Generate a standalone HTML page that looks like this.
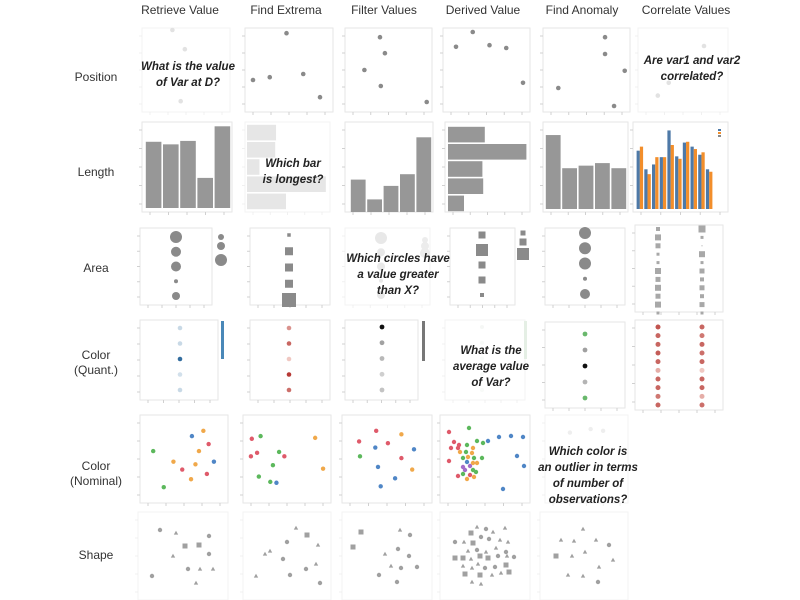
<!DOCTYPE html>
<html><head><meta charset="utf-8">
<style>
html,body{margin:0;padding:0;background:#fff;}
svg{display:block;font-family:"Liberation Sans",sans-serif;}
.hdr{font-size:12px;fill:#333;text-anchor:middle;}
.row{font-size:12px;fill:#333;text-anchor:middle;}
.q{font-size:11.5px;font-weight:bold;font-style:italic;fill:#222;text-anchor:middle;}
</style></head>
<body>
<svg id="fig" width="800" height="600" viewBox="0 0 800 600" xmlns="http://www.w3.org/2000/svg">
<g>
<text class="hdr" x="180" y="14">Retrieve Value</text>
<text class="hdr" x="286" y="14">Find Extrema</text>
<text class="hdr" x="384" y="14">Filter Values</text>
<text class="hdr" x="483" y="14">Derived Value</text>
<text class="hdr" x="582" y="14">Find Anomaly</text>
<text class="hdr" x="686" y="14">Correlate Values</text>
</g>
<g>
<text class="row" x="96" y="81">Position</text>
<text class="row" x="96" y="176">Length</text>
<text class="row" x="96" y="272">Area</text>
<text class="row" x="96" y="359"><tspan x="96">Color</tspan><tspan x="96" dy="15">(Quant.)</tspan></text>
<text class="row" x="96" y="470"><tspan x="96">Color</tspan><tspan x="96" dy="15">(Nominal)</tspan></text>
<text class="row" x="96" y="559">Shape</text>
</g>
<g id="marks"></g>
<g id="qs"></g>
</svg>
<script>
// ---------- data ----------
const catsABCDE = ["A","B","C","D","E"];
const posRetrieveX = [3.3,4.8,4.2,4.3];
const posRetrieveY = [10,7.6,3.4,1.1];
const posExtremaY = [3.75,4.1,9.6,4.5,1.6];
const posFilterX = [3.9,4.5,2.0,4.0,9.6];
const posFilterY = [9.1,7.1,5.0,3.0,1.0];
const posDerivedY = [7.9,9.75,8.1,7.75,3.4];
const posAnomalyX = [1.5,7.2,7.2,9.6,8.3];
const posAnomalyY = [2.75,9.1,7.0,4.9,0.5];
const posCorrX = [2.0,3.3,7.0,7.5,6.1];
const posCorrY = [1.8,3.4,6.2,8.0,4.2];

const lenRetrieve = [77,74,78,35,95];
const lenExtrema = [35,34,15,95,47];
const lenFilter = [36,14,29,42,83];
const lenDerived = [46,98,43,44,20];
const lenAnomaly = [87,48,51,54,48];
const lenCorrBlue = [72,49,55,64,97,65,82,77,67,49];
const lenCorrOrange = [77,43,64,64,79,62,83,74,70,46];

const areaRetrieve = [6,5,5,2,4];
const areaRetrieveLegend = [3,4,6];
const areaExtrema = [3.5,8,8,8,14];
const areaFilter = [6,4,4,2,4];
const areaDerived = [7,12,7,7,4];
const areaDerivedLegend = [5,7,12];
const areaAnomaly = [6,6,6,2,5];
const areaCorrLeft = [4,6,5,3,3,6,5,6,5,6,3];
const areaCorrRight = [7,3,1,6,3,5,4,5,4,5,3];

const colRetrieve = [0.15,0.15,0.9,0.1,0.15];
const colExtrema = [0.45,0.7,0.15,0.95,0.65];
const colFilter = [1,0.35,0.25,0.15,0.2];
const colDerived = [0.15,0.1,0.1,0.1,0.1];
const colAnomaly = [-0.8,0.3,1,0.2,-0.8];
const colCorrLeft = [0.8,0.7,0.7,0.75,0.7,0.3,0.7,0.7,0.6,0.7];
const colCorrRight = [0.7,0.6,0.7,0.65,0.7,0.15,0.7,0.7,0.3,0.65];

const nomRetrieveX = [15,59,72,78,67,38,63,84,48,76,58,27];
const nomRetrieveY = [59,76,82,67,59,47,44,47,38,33,27,18];
const nomRetrieveC = ["g","b","o","r","o","o","o","b","r","r","o","g"];
const nomExtremaX = [10,20,82,9,16,41,47,34,91,18,31,38];
const nomExtremaY = [73,76,74,53,57,58,53,43,39,30,24,23];
const nomExtremaC = ["r","g","o","r","r","g","r","g","o","g","g","b"];
const nomFilterX = [38,66,19,51,37,80,20,66,40,78,59,43];
const nomFilterY = [82,78,70,68,63,61,53,51,41,38,28,19];
const nomFilterC = ["r","o","r","r","b","b","g","r","b","o","b","b"];
const nomDerivedX = [29,9,59,71,83,48,43,37,14,19,27,11,18,33,26,32,20,23,28,34,42,77,9,27,33,37,23,30,33,84,25,36,18,23,30,34,27,63];
const nomDerivedY = [75,71,66,67,66,62,60,62,61,58,58,55,55,55,51,50,51,45,46,45,45,47,42,41,40,40,36,37,33,37,33,31,27,29,28,26,24,14];
const nomDerivedC = ["g","r","b","b","b","b","g","g","r","r","g","r","r","o","g","o","o","g","o","g","g","b","r","b","o","o","p","p","g","b","p","g","r","g","r","o","o","b"];
const nomAnomalyX = [30,55,70];
const nomAnomalyY = [80,84,82];
const nomAnomalyC = ["g","o","o"];

const shpRetrieveX = [22,38,47,61,71,35,71,50,62,75,14,58];
const shpRetrieveY = [70,67,54,55,64,44,46,31,31,31,24,17];
const shpRetrieveS = ["c","t","s","s","c","t","c","c","t","t","c","t"];
const shpExtremaX = [53,64,44,75,22,27,40,73,63,47,13,77];
const shpExtremaY = [72,65,58,55,46,49,41,36,31,25,24,17];
const shpExtremaS = ["t","s","c","t","t","t","c","t","c","c","t","c"];
const shpFilterX = [19,58,68,11,56,43,67,49,59,75,37,55];
const shpFilterY = [68,70,65,53,51,46,44,34,32,33,25,18];
const shpFilterS = ["s","t","c","s","c","t","c","t","c","c","c","c"];
const shpDerivedX = [37,46,53,65,31,41,49,15,24,33,60,68,28,37,46,56,66,15,23,31,40,48,58,67,74,23,32,38,45,55,66,25,40,52,61,69,32,41];
const shpDerivedY = [73,71,68,72,67,63,61,58,58,57,60,58,49,50,48,52,48,42,42,41,44,42,44,44,43,34,32,36,32,33,35,26,25,25,27,28,18,16];
const shpDerivedS = ["t","c","t","t","s","c","c","c","t","s","t","t","t","c","t","t","c","s","s","t","s","s","c","t","c","t","t","t","c","c","s","s","s","t","t","s","t","t"];
const shpAnomalyX = [43,21,34,56,69,16,32,45,73,59,28,43,58];
const shpAnomalyY = [71,60,59,60,55,44,44,48,40,33,25,24,18];
const shpAnomalyS = ["t","t","t","t","c","s","t","t","t","t","t","t","c"];

// ---------- helpers ----------
const NS = "http://www.w3.org/2000/svg";
const root = document.getElementById("marks");
const qs = document.getElementById("qs");
function add(parent, tag, attrs, name) {
  const el = document.createElementNS(NS, tag);
  for (const k in attrs) el.setAttribute(k, attrs[k]);
  
  
  parent.appendChild(el);
  return el;
}
function lin(d0, d1, r0, r1) { return v => r0 + (v - d0) / (d1 - d0) * (r1 - r0); }
function pointScale(n, r0, r1) { return i => n === 1 ? (r0 + r1) / 2 : r0 + i * (r1 - r0) / (n - 1); }
function mix(a, b, t) {
  const pa = [parseInt(a.slice(1,3),16),parseInt(a.slice(3,5),16),parseInt(a.slice(5,7),16)];
  const pb = [parseInt(b.slice(1,3),16),parseInt(b.slice(3,5),16),parseInt(b.slice(5,7),16)];
  return "rgb(" + pa.map((v,i)=>Math.round(v+(pb[i]-v)*t)).join(",") + ")";
}
function frame(x0, y0, x1, y1, name, faint) {
  const g = add(root, "g", {}, name);
  add(g, "rect", {x:x0, y:y0, width:x1-x0, height:y1-y0, fill:"#fff", stroke: faint ? "#f3f3f3" : "#e6e6e6", "stroke-width":1}, "plot-frame");
  const tc = faint ? "#f0f0f0" : "#d0d0d0";
  for (let i = 0; i < 5; i++) {
    const y = y0 + 8 + i * (y1 - y0 - 16) / 4;
    add(g, "line", {x1:x0-3, x2:x0, y1:y, y2:y, stroke:tc, "stroke-width":1}, "y-tick");
  }
  for (let i = 0; i < 5; i++) {
    const x = x0 + 8 + i * (x1 - x0 - 16) / 4;
    add(g, "line", {x1:x, x2:x, y1:y1, y2:y1+3, stroke:tc, "stroke-width":1}, "x-tick");
  }
  return g;
}
function question(cx, y, lines, name) {
  const t = add(qs, "text", {class:"q", x:cx, y:y}, name);
  lines.forEach((s, i) => {
    const ts = add(t, "tspan", {x:cx, dy: i ? 16 : 0}, "question-line");
    ts.textContent = s;
  });
}
const DOT = "#8a8a8a", FAINT = "#e2e2e2";

// ---------- Row 1: Position ----------
(function(){
  let g = frame(142,28,230,112,"position-retrieve-value",true);
  let sx = lin(0,10,145,228), sy = lin(0,10,110,30);
  posRetrieveX.forEach((v,i)=>{ add(g,"circle",{cx:sx(v),cy:sy(posRetrieveY[i]),r:2.3,fill:FAINT},"point"); });

  g = frame(245,28,333,112,"position-find-extrema");
  let px = pointScale(catsABCDE.length,253,320); sy = lin(0,10,110,30);
  posExtremaY.forEach((v,i)=>{ add(g,"circle",{cx:px(i),cy:sy(v),r:2.3,fill:DOT},"point"); });

  g = frame(345,28,432,112,"position-filter-values");
  sx = lin(0,10,348,430); sy = lin(0,10,110,30);
  posFilterX.forEach((v,i)=>{ add(g,"circle",{cx:sx(v),cy:sy(posFilterY[i]),r:2.3,fill:DOT},"point"); });

  g = frame(443,28,530,112,"position-derived-value");
  px = pointScale(catsABCDE.length,456,523); sy = lin(0,10,110,30);
  posDerivedY.forEach((v,i)=>{ add(g,"circle",{cx:px(i),cy:sy(v),r:2.3,fill:DOT},"point"); });

  g = frame(543,28,630,112,"position-find-anomaly");
  sx = lin(0,10,546,628); sy = lin(0,10,110,30);
  posAnomalyX.forEach((v,i)=>{ add(g,"circle",{cx:sx(v),cy:sy(posAnomalyY[i]),r:2.3,fill:DOT},"point"); });

  g = frame(638,28,728,112,"position-correlate-values",true);
  sx = lin(0,10,641,725); sy = lin(0,10,110,30);
  posCorrX.forEach((v,i)=>{ add(g,"circle",{cx:sx(v),cy:sy(posCorrY[i]),r:2.3,fill:FAINT},"point"); });
})();

// ---------- Row 2: Length ----------
(function(){
  const BAR = "#979797";
  let g = frame(142,122,232,212,"length-retrieve-value");
  let sy = lin(0,100,208,122), step = 86/5;
  lenRetrieve.forEach((v,i)=>{ add(g,"rect",{x:145+i*step+0.8,y:sy(v),width:step-1.6,height:208-sy(v),fill:BAR},"bar"); });

  g = frame(245,122,330,212,"length-find-extrema",true);
  let sx = lin(0,100,247,330); step = 86/5;
  lenExtrema.forEach((v,i)=>{ add(g,"rect",{x:247,y:124+i*step+0.8,width:sx(v)-247,height:step-1.6,fill:"#e6e6e6"},"bar"); });

  g = frame(345,122,433,212,"length-filter-values");
  sy = lin(0,100,212,122); step = 82/5;
  lenFilter.forEach((v,i)=>{ add(g,"rect",{x:350+i*step+0.8,y:sy(v),width:step-1.6,height:212-sy(v),fill:BAR},"bar"); });

  g = frame(445,122,530,212,"length-derived-value");
  sx = lin(0,100,448,528); step = 86/5;
  lenDerived.forEach((v,i)=>{ add(g,"rect",{x:448,y:126+i*step+0.8,width:sx(v)-448,height:step-1.6,fill:BAR},"bar"); });

  g = frame(543,122,628,212,"length-find-anomaly");
  sy = lin(0,100,209,124); step = 82/5;
  lenAnomaly.forEach((v,i)=>{ add(g,"rect",{x:545+i*step+0.8,y:sy(v),width:step-1.6,height:209-sy(v),fill:BAR},"bar"); });

  g = frame(633,122,728,212,"length-correlate-values");
  sy = lin(0,100,209,128); step = 77/10;
  lenCorrBlue.forEach((v,i)=>{ add(g,"rect",{x:636+i*step+0.6,y:sy(v),width:step/2-0.6,height:209-sy(v),fill:"#4e79a7"},"bar-var1"); });
  lenCorrOrange.forEach((v,i)=>{ add(g,"rect",{x:636+i*step+step/2,y:sy(v),width:step/2-0.6,height:209-sy(v),fill:"#f28e2b"},"bar-var2"); });
  ["#4e79a7","#f28e2b","#888"].forEach((c,i)=>{ add(g,"rect",{x:718,y:129+i*3,width:3,height:2,fill:c},"legend-swatch"); });
})();

// ---------- Row 3: Area ----------
(function(){
  let g = frame(140,228,212,305,"area-retrieve-value");
  let py = pointScale(5,237,296);
  areaRetrieve.forEach((v,i)=>{ add(g,"circle",{cx:176,cy:py(i),r:v,fill:DOT},"circle-mark"); });
  [237,246,260].forEach((y,i)=>{ add(g,"circle",{cx:221,cy:y,r:areaRetrieveLegend[i],fill:DOT},"size-legend-circle"); });

  g = frame(250,228,330,305,"area-find-extrema");
  py = pointScale(5,235,300);
  areaExtrema.forEach((v,i)=>{ add(g,"rect",{x:289-v/2,y:py(i)-v/2,width:v,height:v,fill:DOT},"square-mark"); });

  g = frame(345,228,430,305,"area-filter-values",true);
  py = pointScale(5,238,295);
  areaFilter.forEach((v,i)=>{ add(g,"circle",{cx:381,cy:py(i),r:v,fill:"#e8e8e8"},"circle-mark"); });
  [240,246,253].forEach((y,i)=>{ add(g,"circle",{cx:425,cy:y,r:3+i,fill:"#ececec"},"size-legend-circle"); });

  g = frame(450,228,515,305,"area-derived-value");
  py = pointScale(5,235,295);
  areaDerived.forEach((v,i)=>{ add(g,"rect",{x:482-v/2,y:py(i)-v/2,width:v,height:v,fill:DOT},"square-mark"); });
  [233,242,254].forEach((y,i)=>{ const v=areaDerivedLegend[i]; add(g,"rect",{x:523-v/2,y:y-v/2,width:v,height:v,fill:DOT},"size-legend-square"); });

  g = frame(545,228,625,305,"area-find-anomaly");
  py = pointScale(5,233,294);
  areaAnomaly.forEach((v,i)=>{ add(g,"circle",{cx:585,cy:py(i),r:v,fill:DOT},"circle-mark"); });

  g = frame(635,225,723,312,"area-correlate-values");
  py = pointScale(11,229,313);
  areaCorrLeft.forEach((v,i)=>{ add(g,"rect",{x:658-v/2,y:py(i)-v/2,width:v,height:v,fill:"#a8a8a8"},"square-var1"); });
  areaCorrRight.forEach((v,i)=>{ add(g,"rect",{x:702-v/2,y:py(i)-v/2,width:v,height:v,fill:"#a8a8a8"},"square-var2"); });
})();

// ---------- Row 4: Color (Quant.) ----------
(function(){
  const blue = v => mix("#e6eef5","#1f5f94",v);
  const red = v => mix("#fbe3dc","#b2302c",v);
  const gray = v => mix("#f0f0f0","#111111",v);
  const div = v => v < 0 ? mix("#dddddd","#4caf50",-v) : mix("#dddddd","#111111",v);
  let g = frame(140,320,218,400,"color-retrieve-value");
  let py = pointScale(5,328,390);
  colRetrieve.forEach((v,i)=>{ add(g,"circle",{cx:180,cy:py(i),r:2.3,fill:blue(v)},"color-dot"); });
  add(g,"rect",{x:221,y:321,width:3,height:38,fill:"#4a88b8"},"color-legend-bar");

  g = frame(250,320,330,400,"color-find-extrema");
  colExtrema.forEach((v,i)=>{ add(g,"circle",{cx:289,cy:py(i),r:2.3,fill:red(v)},"color-dot"); });

  g = frame(345,320,418,400,"color-filter-values");
  py = pointScale(5,327,390);
  colFilter.forEach((v,i)=>{ add(g,"circle",{cx:382,cy:py(i),r:2.4,fill:gray(v)},"color-dot"); });
  add(g,"rect",{x:422,y:321,width:3,height:40,fill:"#777"},"color-legend-bar");

  g = frame(445,320,525,400,"color-derived-value",true);
  py = pointScale(5,327,390);
  colDerived.forEach((v,i)=>{ add(g,"circle",{cx:482,cy:py(i),r:2,fill:mix("#ffffff","#bbccbb",v)},"color-dot"); });
  add(g,"rect",{x:524,y:321,width:3,height:38,fill:"#e5efe5"},"color-legend-bar");

  g = frame(545,322,625,408,"color-find-anomaly");
  py = pointScale(5,334,398);
  colAnomaly.forEach((v,i)=>{ add(g,"circle",{cx:585,cy:py(i),r:2.4,fill:div(v)},"color-dot"); });

  g = frame(635,320,723,410,"color-correlate-values");
  py = pointScale(10,327,405);
  colCorrLeft.forEach((v,i)=>{ add(g,"circle",{cx:658,cy:py(i),r:2.5,fill:red(v)},"color-dot-var1"); });
  colCorrRight.forEach((v,i)=>{ add(g,"circle",{cx:702,cy:py(i),r:2.5,fill:red(v)},"color-dot-var2"); });
})();

// ---------- Row 5: Color (Nominal) ----------
(function(){
  const pal = {r:"#df5a6a", g:"#5cb85c", b:"#4f86c6", o:"#f0a84a", p:"#a46cc9"};
  function scatter(name, x0,y0,x1,y1, dx, dy, xs, ys, cs, faint) {
    const g = frame(x0,y0,x1,y1,name,faint);
    const sx = lin(0,dx,x0,x1), sy = lin(0,dy,y1,y0);
    xs.forEach((v,i)=>{ add(g,"circle",{cx:sx(v),cy:sy(ys[i]),r:2.2,fill: faint ? "#eee" : pal[cs[i]]},"category-point"); });
  }
  scatter("nominal-retrieve-value",140,415,228,503,100,100,nomRetrieveX,nomRetrieveY,nomRetrieveC);
  scatter("nominal-find-extrema",243,415,331,503,100,100,nomExtremaX,nomExtremaY,nomExtremaC);
  scatter("nominal-filter-values",342,415,432,503,100,100,nomFilterX,nomFilterY,nomFilterC);
  scatter("nominal-derived-value",440,415,530,503,90,88,nomDerivedX,nomDerivedY,nomDerivedC);
  scatter("nominal-find-anomaly",545,415,628,503,100,100,nomAnomalyX,nomAnomalyY,nomAnomalyC,true);
})();

// ---------- Row 6: Shape ----------
(function(){
  function shapes(name, x0,y0,x1,y1, xs, ys, ss) {
    const g = frame(x0,y0,x1,y1,name,true);
    const sx = lin(0,x1-x0,x0,x1), sy = lin(0,y1-y0,y1,y0);
    xs.forEach((v,i)=>{
      const cx = sx(v), cy = sy(ys[i]), s = ss[i];
      if (s === "c") add(g,"circle",{cx:cx,cy:cy,r:2.2,fill:"#a0a0a0"},"shape-circle");
      else if (s === "s") add(g,"rect",{x:cx-2.5,y:cy-2.5,width:5,height:5,fill:"#a0a0a0"},"shape-square");
      else add(g,"path",{d:`M${cx},${cy-2.3}L${cx+2.2},${cy+1.6}L${cx-2.2},${cy+1.6}Z`,fill:"#a0a0a0"},"shape-triangle");
    });
  }
  shapes("shape-retrieve-value",138,512,228,600,shpRetrieveX,shpRetrieveY,shpRetrieveS);
  shapes("shape-find-extrema",243,512,331,600,shpExtremaX,shpExtremaY,shpExtremaS);
  shapes("shape-filter-values",342,512,432,600,shpFilterX,shpFilterY,shpFilterS);
  shapes("shape-derived-value",440,512,530,600,shpDerivedX,shpDerivedY,shpDerivedS);
  shapes("shape-find-anomaly",540,512,628,600,shpAnomalyX,shpAnomalyY,shpAnomalyS);
})();

// ---------- question overlays ----------
question(188,70,["What is the value","of Var at D?"],"question-retrieve-value");
question(692,64,["Are var1 and var2","correlated?"],"question-correlate-values");
question(293,167,["Which bar","is longest?"],"question-find-extrema");
question(398,262,["Which circles have","a value greater","than X?"],"question-filter-values");
question(491,354,["What is the","average value","of Var?"],"question-derived-value");
question(588,455,["Which color is","an outlier in terms","of number of","observations?"],"question-find-anomaly");
</script>
</body></html>
